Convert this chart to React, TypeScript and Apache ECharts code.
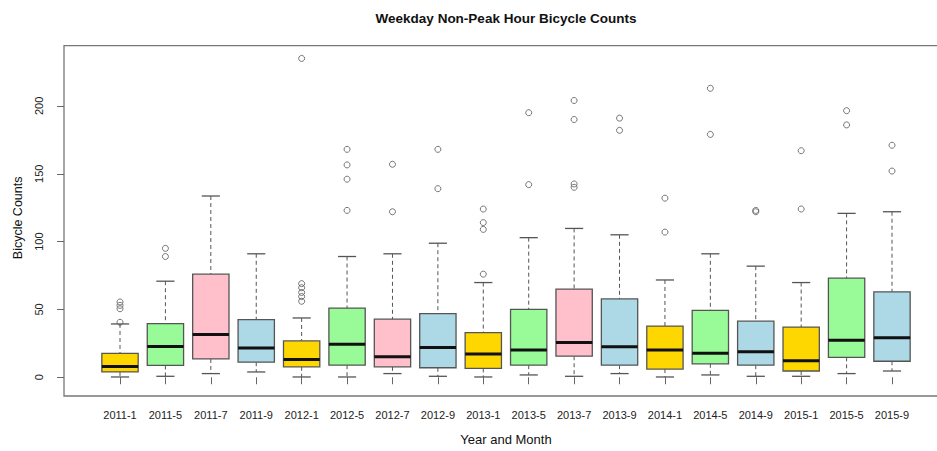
import React, { useEffect, useRef } from "react";
import * as echarts from "echarts";

const categories = [
  "2011-1", "2011-5", "2011-7", "2011-9", "2012-1", "2012-5", "2012-7", "2012-9", "2013-1",
  "2013-5", "2013-7", "2013-9", "2014-1", "2014-5", "2014-9", "2015-1", "2015-5", "2015-9",
];
const lows = [0.2, 0.7, 2.7, 3.9, 0.2, 0.2, 2.7, 0.7, 0.2, 1.7, 0.7, 2.7, 0.2, 1.7, 0.7, 0.7, 2.7, 4.6];
const q1s = [3.9, 8.7, 13.5, 11.1, 7.7, 8.9, 7.7, 7, 6.5, 8.9, 15.5, 8.9, 6, 9.9, 8.9, 4.6, 14.7, 11.8];
const medians = [8, 22.7, 31.6, 21.5, 13, 24.4, 15.2, 22, 17.1, 20, 25.6, 22.5, 20, 17.6, 18.8, 12.1, 27.3, 29.2];
const q3s = [17.6, 39.6, 76, 42.5, 26.8, 51, 42.8, 46.9, 32.9, 50, 65, 57.7, 37.7, 49.3, 41.3, 37, 73, 63];
const highs = [39.3, 70.8, 133.6, 91, 43.7, 89, 91, 98.8, 69.8, 102.9, 109.7, 105, 71.7, 91, 81.9, 69.8, 120.8, 122];
const outliers = [
  [40.5, 50.5, 53, 55.5],
  [89, 95],
  [],
  [],
  [56, 59.5, 62.5, 66, 69, 235],
  [123, 146, 156.5, 168],
  [122, 157],
  [139, 168],
  [76, 109, 114, 124],
  [142, 195],
  [140, 142.5, 190, 204],
  [182, 191],
  [107, 132],
  [179, 213],
  [122, 123],
  [124, 167],
  [186, 196.5],
  [152, 171],
];
const yTicks = [0, 50, 100, 150, 200];
const monthColors: Record<string, string> = {
  "1": "#FFD700",
  "5": "#98FB98",
  "7": "#FFC0CB",
  "9": "#ADD8E6",
};

const FONT = '"Liberation Sans", Arial, sans-serif';

export default function App() {
  const ref = useRef<HTMLDivElement>(null);
  useEffect(() => {
    if (!ref.current) return;
    const chart = echarts.init(ref.current, undefined, { renderer: "svg" });
    const boxData = categories.map((_, i) => [i, lows[i], q1s[i], medians[i], q3s[i], highs[i]]);
    const outlierData: number[][] = [];
    outliers.forEach((arr, i) => arr.forEach((v) => outlierData.push([i, v])));
    const stroke = "#555";

    chart.setOption({
      animation: false,
      backgroundColor: "#fff",
      textStyle: { fontFamily: FONT },
      graphic: [
        {
          type: "rect",
          shape: { x: 64, y: 45.7, width: 900, height: 350.3 },
          style: { fill: "none", stroke: "#777", lineWidth: 1.3 },
          silent: true,
        },
        {
          type: "text",
          x: 506,
          y: 18,
          style: {
            text: "Weekday Non-Peak Hour Bicycle Counts",
            fontFamily: FONT,
            fontWeight: "bold",
            fontSize: 13.5,
            fill: "#111",
            align: "center",
            verticalAlign: "middle",
          },
        },
      ],
      grid: { left: 97.3, right: 22.3, top: 45.7, bottom: 55, containLabel: false },
      xAxis: {
        type: "category",
        data: categories,
        boundaryGap: true,
        axisLine: { show: false },
        axisTick: { show: true, alignWithLabel: true, length: 7, lineStyle: { color: "#666" } },
        axisLabel: { fontSize: 11, color: "#222", margin: 19, interval: 0, fontFamily: FONT },
        splitLine: { show: false },
        name: "Year and Month",
        nameLocation: "middle",
        nameGap: 43,
        nameTextStyle: { fontSize: 13, color: "#111", fontFamily: FONT },
      },
      yAxis: {
        type: "value",
        min: -9.4,
        max: 244.4,
        offset: 33.3,
        axisLine: { show: false },
        axisTick: { show: true, length: 7, lineStyle: { color: "#666" }, customValues: yTicks },
        axisLabel: {
          customValues: yTicks,
          rotate: 90,
          fontSize: 11,
          color: "#222",
          margin: 20,
          fontFamily: FONT,
        },
        splitLine: { show: false },
        name: "Bicycle Counts",
        nameLocation: "middle",
        nameRotate: 90,
        nameGap: 40,
        nameTextStyle: { fontSize: 12.5, color: "#111", fontFamily: FONT },
      },
      series: [
        {
          type: "custom",
          data: boxData,
          encode: { x: 0, y: [1, 2, 3, 4, 5] },
          renderItem: (params: any, api: any) => {
            const i = params.dataIndex;
            const low = api.coord([i, api.value(1)]);
            const q1 = api.coord([i, api.value(2)]);
            const med = api.coord([i, api.value(3)]);
            const q3 = api.coord([i, api.value(4)]);
            const high = api.coord([i, api.value(5)]);
            const band = api.size([1, 0])[0];
            const bw = band * 0.8;
            const half = bw / 2;
            const cap = bw / 4;
            const x = low[0];
            const month = categories[i].split("-")[1];
            const dash = { stroke, lineWidth: 1, lineDash: [4, 3] };
            const solid = { stroke, lineWidth: 1.3 };
            return {
              type: "group",
              children: [
                { type: "line", shape: { x1: x, y1: high[1], x2: x, y2: q3[1] }, style: dash },
                { type: "line", shape: { x1: x, y1: q1[1], x2: x, y2: low[1] }, style: dash },
                { type: "line", shape: { x1: x - cap, y1: high[1], x2: x + cap, y2: high[1] }, style: solid },
                { type: "line", shape: { x1: x - cap, y1: low[1], x2: x + cap, y2: low[1] }, style: solid },
                {
                  type: "rect",
                  shape: { x: x - half, y: q3[1], width: bw, height: q1[1] - q3[1] },
                  style: { fill: monthColors[month], stroke, lineWidth: 1.3 },
                },
                {
                  type: "line",
                  shape: { x1: x - half, y1: med[1], x2: x + half, y2: med[1] },
                  style: { stroke: "#111", lineWidth: 3 },
                },
              ],
            };
          },
        },
        {
          type: "scatter",
          data: outlierData,
          symbol: "circle",
          symbolSize: 6,
          itemStyle: { color: "rgba(0,0,0,0)", borderColor: "#555", borderWidth: 1 },
          z: 3,
        },
      ],
    });
    return () => chart.dispose();
  }, []);
  return (
    <div
      ref={ref}
      style={{ position: "fixed", left: 0, top: 0, width: 937, height: 451, background: "#fff" }}
    />
  );
}
